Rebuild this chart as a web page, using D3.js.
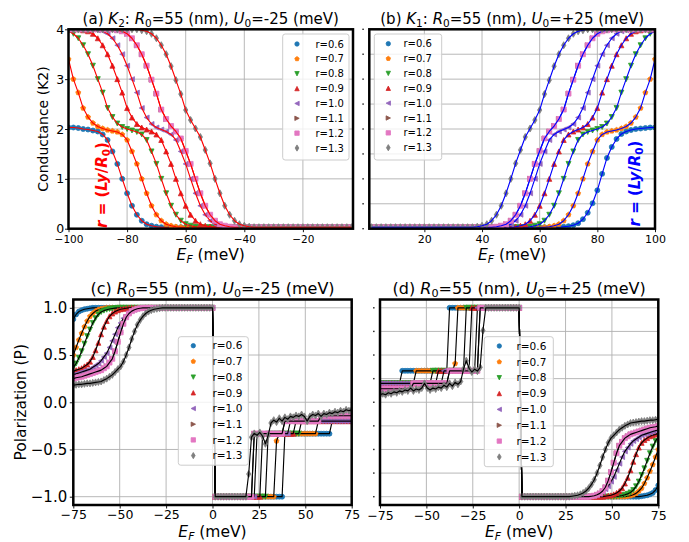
<!DOCTYPE html>
<html>
<head>
<meta charset="utf-8">
<script src="https://cdn.jsdelivr.net/npm/d3@7/dist/d3.min.js"></script>
<style>
html,body{margin:0;padding:0;background:#ffffff;}
svg{display:block;}
text{font-family:"DejaVu Sans",sans-serif;white-space:pre;}
</style>
</head>
<body>
<svg id="chart" width="689" height="542" xmlns="http://www.w3.org/2000/svg"></svg>
<script>
// ================= DATA =================
const seriesLabels = ["r=0.6","r=0.7","r=0.8","r=0.9","r=1.0","r=1.1","r=1.2","r=1.3"];
const seriesColors = ["#1f77b4","#ff7f0e","#2ca02c","#d62728","#9467bd","#8c564b","#e377c2","#7f7f7f"];
const seriesMarkers = ["o","p","v","^","<",">","s","d"];

// E_F sample grids (meV)
const efA = d3.range(59).map(i => -100 + i * 5 / 3);
const efB = d3.range(1, 61).map(j => j * 5 / 3);
const efCD = d3.range(101).map(k => -75 + 1.5 * k);

// tick values
const xTicksA = [-100,-80,-60,-40,-20];
const yTicksA = [0,1,2,3,4];
const xTicksB = [20,40,60,80,100];
const yTicksB = [0,0.5,1,1.5,2,2.5,3,3.5,4];
const xTicksCD = [-75,-50,-25,0,25,50,75];
const yTicksC = [-1,-0.5,0,0.5,1];
const yTicksD = [-1,-0.75,-0.5,-0.25,0,0.25,0.5,0.75,1];

// (a) conductance K2, U0=-25
const condA_r06 = [2.03,2.03,2.02,2.0,1.99,1.97,1.95,1.89,1.78,1.55,
 1.3,1.0,.71,.46,.28,.16,.09,.06,.04,
 .03,.03,.03,.03,.03,.03,.03,.03,.03,.03,
 .03,.03,.03,.03,.03,.03,.03,.03,.03,.03,
 .03,.03,.03,.03,.03,.03,.03,.03,.03,.03,
 .03,.03,.03,.03,.03,.03,.03,.03,.03,.03];
const condA_r07 = [3.4,3.0,2.73,2.42,2.24,2.12,2.05,2.01,1.98,1.96,
 1.94,1.89,1.78,1.55,1.3,1.0,.71,.46,.28,.16,
 .09,.06,.04,
 .03,.03,.03,.03,.03,.03,.03,.03,.03,.03,
 .03,.03,.03,.03,.03,.03,.03,.03,.03,.03,
 .03,.03,.03,.03,.03,.03,.03,.03,.03,.03,
 .03,.03,.03,.03,.03,.03];
const condA_r08 = [3.96,3.91,3.82,3.68,3.5,3.27,3.0,2.73,2.42,2.24,
 2.11,2.04,2.0,1.97,1.94,1.89,1.78,1.55,1.3,1.0,
 .71,.46,.28,.16,.09,.06,.04,
 .03,.03,.03,.03,.03,.03,.03,.03,.03,.03,
 .03,.03,.03,.03,.03,.03,.03,.03,.03,.03,
 .03,.03,.03,.03,.03,.03,.03,.03,.03,.03,
 .03,.03];
const condA_r09 = [4,4,4,3.98,3.96,3.91,3.82,3.68,3.5,3.27,
 3.0,2.73,2.42,2.23,2.1,2.03,1.99,1.95,1.89,1.78,
 1.55,1.3,1.0,.71,.46,.28,.16,.09,.06,.04,
 .03,.03,.03,.03,.03,.03,.03,.03,.03,.03,
 .03,.03,.03,.03,.03,.03,.03,.03,.03,.03,
 .03,.03,.03,.03,.03,.03,.03,.03,.03];
const condA_r10 = [4,4,4,4,4,4,3.98,3.96,3.91,3.82,
 3.68,3.5,3.27,3.0,2.73,2.42,2.23,2.1,2.03,1.99,
 1.95,1.89,1.78,1.55,1.3,1.0,.71,.46,.28,.16,
 .09,.06,.04,
 .03,.03,.03,.03,.03,.03,.03,.03,.03,.03,
 .03,.03,.03,.03,.03,.03,.03,.03,.03,.03,
 .03,.03,.03,.03,.03,.03];
const condA_r12 = [4,4,4,4,4,4,4,4,4,4,
 3.98,3.96,3.91,3.82,3.68,3.5,3.27,2.99,2.71,2.39,
 2.2,2.06,1.95,1.81,1.56,1.3,1.0,.71,.46,.28,
 .16,.09,.06,.04,
 .03,.03,.03,.03,.03,.03,.03,.03,.03,.03,
 .03,.03,.03,.03,.03,.03,.03,.03,.03,.03,
 .03,.03,.03,.03,.03];
const condA_r13 = [4,4,4,4,4,4,4,4,4,4,
 4,4,4,4,4,3.98,3.96,3.91,3.82,3.68,
 3.5,3.26,2.98,2.7,2.38,2.18,2.01,1.84,1.58,1.31,
 1.0,.71,.46,.28,.16,.09,.06,.04,
 .03,.03,.03,.03,.03,.03,.03,.03,.03,.03,
 .03,.03,.03,.03,.03,.03,.03,.03,.03,.03,
 .03];
const condA_r11 = condA_r12; // r=1.1 markers lie exactly under the r=1.2 squares

// (b) conductance K1, U0=+25
const condB_r06 = [.03,.03,.03,.03,.03,.03,.03,.03,.03,.03,
 .03,.03,.03,.03,.03,.03,.03,.03,.03,.03,
 .03,.03,.03,.03,.03,.03,.03,.03,.03,.03,
 .03,.03,.03,.03,.03,.03,.03,.03,.03,.03,
 .04,.05,.07,.11,.19,.32,.51,.77,1.1,1.42,
 1.64,1.8,1.9,1.95,1.98,2.0,2.01,2.02,2.03,2.03];
const condB_r07 = [.03,.03,.03,.03,.03,.03,.03,.03,.03,.03,
 .03,.03,.03,.03,.03,.03,.03,.03,.03,.03,
 .03,.03,.03,.03,.03,.03,.03,.03,.03,.03,
 .03,.03,.03,.03,.03,.03,.03,.04,.06,.09,
 .16,.28,.46,.71,1.0,1.3,1.55,1.78,1.89,1.94,
 1.96,1.98,2.01,2.05,2.12,2.24,2.42,2.73,3.0,3.4];
const condB_r08 = [.03,.03,.03,.03,.03,.03,.03,.03,.03,.03,
 .03,.03,.03,.03,.03,.03,.03,.03,.03,.03,
 .03,.03,.03,.03,.03,.03,.03,.03,.03,.03,
 .03,.03,.03,.04,.06,.09,.16,.28,.46,.71,
 1.0,1.3,1.55,1.78,1.89,1.94,1.97,2.0,2.04,2.11,
 2.24,2.42,2.73,3.0,3.27,3.5,3.68,3.82,3.91,3.96];
const condB_r09 = [.03,.03,.03,.03,.03,.03,.03,.03,.03,.03,
 .03,.03,.03,.03,.03,.03,.03,.03,.03,.03,
 .03,.03,.03,.03,.03,.03,.03,.03,.03,.03,
 .04,.06,.09,.16,.28,.46,.71,1.0,1.3,1.55,
 1.78,1.89,1.95,1.99,2.03,2.1,2.23,2.42,2.73,3.0,
 3.27,3.5,3.68,3.82,3.91,3.96,3.98,4,4,4];
const condB_r10 = [.03,.03,.03,.03,.03,.03,.03,.03,.03,.03,
 .03,.03,.03,.03,.03,.03,.03,.03,.03,.03,
 .03,.03,.03,.03,.03,.03,.03,.04,.06,.09,
 .16,.28,.46,.71,1.0,1.3,1.55,1.78,1.89,1.95,
 1.99,2.03,2.1,2.23,2.42,2.73,3.0,3.27,3.5,3.68,
 3.82,3.91,3.96,3.98,4,4,4,4,4,4];
const condB_r12 = [.03,.03,.03,.03,.03,.03,.03,.03,.03,.03,
 .03,.03,.03,.03,.03,.03,.03,.03,.03,.03,
 .03,.03,.03,.03,.03,.03,.04,.06,.09,.16,
 .28,.46,.71,1.0,1.3,1.56,1.81,1.95,2.06,2.2,
 2.39,2.71,2.99,3.27,3.5,3.68,3.82,3.91,3.96,3.98,
 4,4,4,4,4,4,4,4,4,4];
const condB_r13 = [.03,.03,.03,.03,.03,.03,.03,.03,.03,.03,
 .03,.03,.03,.03,.03,.03,.03,.03,.03,.03,
 .03,.03,.04,.06,.09,.16,.28,.46,.71,1.0,
 1.31,1.58,1.84,2.01,2.18,2.38,2.7,2.98,3.26,3.5,
 3.68,3.82,3.91,3.96,3.98,4,4,4,4,4,
 4,4,4,4,4,4,4,4,4,4];
const condB_r11 = condB_r12; // hidden under r=1.2

// (c) polarization, U0=-25
const polC_r06 = [.88,.93,.96,.975,.985,.99,.995,1,1,1,
 1,1,1,1,1,1,1,1,1,1, 1,1,1,1,1,1,1,1,1,1,
 1,1,1,1,1,1,1,1,1,1, 1,1,1,1,1,1,1,1,1,1,
 1,-1,-1,-1,-1,-1,-1,-1,-1,-1,
 -1,-1,-1,-1,-1,-1,-1,-1,-1,-1,
 -1,-1,-1,-1,-1,-1,-.333,-.333,-.333,-.333,
 -.333,-.333,-.333,-.333,-.333,-.333,-.333,-.333,-.333,-.333,
 -.333,-.333,-.333,-.2,-.2,-.2,-.2,-.2,-.2,-.2,
 -.2];
const polC_r07 = [.5,.58,.66,.73,.8,.86,.91,.94,.965,.98,
 .99,.995,1,1,1,1,1,1,1,1,
 1,1,1,1,1,1,1,1,1,1, 1,1,1,1,1,1,1,1,1,1, 1,1,1,1,1,1,1,1,1,1,
 1,-1,-1,-1,-1,-1,-1,-1,-1,-1,
 -1,-1,-1,-1,-1,-1,-1,-1,-1,-1,
 -1,-1,-1,-.41,-.333,-.333,-.333,-.333,-.333,-.333,
 -.333,-.333,-.333,-.333,-.333,-.333,-.333,-.333,-.2,-.2,
 -.2,-.2,-.2,-.2,-.2,-.2,-.2,-.2,-.2,-.2,
 -.2];
const polC_r08 = [.37,.41,.47,.54,.62,.7,.77,.84,.89,.93,
 .955,.97,.98,.988,.993,.997,1,1,1,1,
 1,1,1,1,1,1,1,1,1,1, 1,1,1,1,1,1,1,1,1,1, 1,1,1,1,1,1,1,1,1,1,
 1,-1,-1,-1,-1,-1,-1,-1,-1,-1,
 -1,-1,-1,-1,-1,-1,-1,-1,-1,-1,
 -.333,-.333,-.333,-.333,-.333,-.333,-.333,-.333,-.333,-.333,
 -.333,-.333,-.2,-.2,-.2,-.2,-.2,-.2,-.2,-.2,
 -.2,-.2,-.2,-.2,-.2,-.2,-.2,-.2,-.2,-.2,
 -.2];
const polC_r09 = [.33,.34,.35,.36,.38,.4,.43,.48,.55,.63,
 .72,.8,.86,.91,.94,.96,.975,.985,.99,.995,
 1,1,1,1,1,1,1,1,1,1, 1,1,1,1,1,1,1,1,1,1, 1,1,1,1,1,1,1,1,1,1,
 1,-1,-1,-1,-1,-1,-1,-1,-1,-1,
 -1,-1,-1,-1,-1,-1,-1,-1,-.333,-.333,
 -.333,-.333,-.333,-.333,-.333,-.333,-.333,-.333,-.333,-.333,
 -.2,-.2,-.2,-.2,-.2,-.2,-.2,-.2,-.2,-.2,
 -.2,-.2,-.2,-.2,-.2,-.2,-.2,-.2,-.2,-.2,
 -.2];
const polC_r10 = [.29,.3,.31,.32,.33,.34,.35,.37,.39,.41,
 .44,.48,.52,.58,.65,.72,.79,.84,.89,.92,
 .95,.97,.98,.99,.995,1,1,1,1,1,
 1,1,1,1,1,1,1,1,1,1, 1,1,1,1,1,1,1,1,1,1,
 1,-1,-1,-1,-1,-1,-1,-1,-1,-1,
 -1,-1,-1,-1,-1,-1,-.333,-.333,-.333,-.333,
 -.333,-.333,-.333,-.333,-.333,-.333,-.333,-.333,-.2,-.2,
 -.2,-.2,-.2,-.2,-.2,-.2,-.2,-.2,-.2,-.2,
 -.2,-.2,-.2,-.2,-.2,-.2,-.2,-.2,-.2,-.2,
 -.2];
const polC_r12 = [.25,.26,.265,.27,.28,.29,.3,.31,.32,.33,
 .34,.36,.38,.42,.46,.54,.64,.74,.83,.9,
 .94,.965,.98,.99,.995,1,1,1,1,1,
 1,1,1,1,1,1,1,1,1,1, 1,1,1,1,1,1,1,1,1,1,
 1,-1,-1,-1,-1,-1,-1,-1,-1,-1,
 -1,-1,-1,-1,-1,-.333,-.333,-.333,-.333,-.333,
 -.333,-.333,-.333,-.333,-.333,-.333,-.2,-.2,-.2,-.2,
 -.2,-.2,-.2,-.2,-.2,-.2,-.2,-.2,-.2,-.143,
 -.143,-.143,-.143,-.143,-.143,-.143,-.143,-.143,-.143,-.143,
 -.143];
const polC_r13 = [.18,.185,.19,.19,.195,.2,.2,.205,.21,.215,
 .22,.235,.25,.27,.29,.32,.35,.38,.43,.5,
 .58,.67,.75,.82,.87,.91,.94,.96,.975,.985,
 .99,.995,1,1,1,1,1,1,1,1,
 1,1,1,1,1,1,1,1,1,1,
 1,-1,-1,-1,-1,-1,-1,-1,-1,-1,
 -1,-1,-1,-.76,-.37,-.33,-.35,-.32,-.36,-.44,
 -.35,-.22,-.19,-.21,-.17,-.2,-.16,-.18,-.15,-.16,
 -.14,-.15,-.13,-.15,-.2,-.15,-.13,-.14,-.12,-.15,
 -.12,-.13,-.11,-.12,-.1,-.11,-.09,-.1,-.08,-.09,
 -.08];
const polC_r11 = polC_r12; // hidden under r=1.2

// (d) polarization, U0=+25
const polD_r06 = [.2,.2,.2,.2,.2,.2,.2,.2,.333,.333,
 .333,.333,.333,.333,.333,.333,.333,.333,.333,.333,
 .333,.333,.333,.333,.333,1,1,1,1,1,
 1,1,1,1,1,1,1,1,1,1, 1,1,1,1,1,1,1,1,1,1,
 1,-1,-1,-1,-1,-1,-1,-1,-1,-1,
 -1,-1,-1,-1,-1,-1,-1,-1,-1,-1,
 -1,-1,-1,-1,-1,-1,-1,-1,-1,-1,
 -1,-1,-1,-1,-1,-1,-1,-1,-1,-1,
 -1,-1,-1,-1,-.995,-.99,-.985,-.975,-.96,-.93,
 -.88];
const polD_r07 = [.2,.2,.2,.2,.2,.2,.2,.2,.2,.2,
 .2,.2,.2,.333,.333,.333,.333,.333,.333,.333,
 .333,.333,.333,.333,.333,.333,.333,.41,1,1,
 1,1,1,1,1,1,1,1,1,1, 1,1,1,1,1,1,1,1,1,1,
 1,-1,-1,-1,-1,-1,-1,-1,-1,-1,
 -1,-1,-1,-1,-1,-1,-1,-1,-1,-1,
 -1,-1,-1,-1,-1,-1,-1,-1,-1,-1,
 -1,-1,-1,-1,-1,-1,-1,-1,-1,-.995,
 -.99,-.98,-.965,-.94,-.91,-.86,-.8,-.73,-.66,-.58,
 -.5];
const polD_r08 = [.2,.2,.2,.2,.2,.2,.2,.2,.2,.2,
 .2,.2,.2,.2,.2,.2,.2,.2,.2,.333,
 .333,.333,.333,.333,.333,.333,.333,.333,.333,.333,
 .333,1,1,1,1,1,1,1,1,1,
 1,1,1,1,1,1,1,1,1,1,
 1,-1,-1,-1,-1,-1,-1,-1,-1,-1,
 -1,-1,-1,-1,-1,-1,-1,-1,-1,-1,
 -1,-1,-1,-1,-1,-1,-1,-1,-1,-1,
 -1,-1,-1,-1,-1,-.997,-.993,-.988,-.98,-.97,
 -.955,-.93,-.89,-.84,-.77,-.7,-.62,-.54,-.47,-.41,
 -.37];
const polD_r09 = [.2,.2,.2,.2,.2,.2,.2,.2,.2,.2,
 .2,.2,.2,.2,.2,.2,.2,.2,.2,.2,
 .2,.333,.333,.333,.333,.333,.333,.333,.333,.333,
 .333,.333,.333,1,1,1,1,1,1,1,
 1,1,1,1,1,1,1,1,1,1,
 1,-1,-1,-1,-1,-1,-1,-1,-1,-1,
 -1,-1,-1,-1,-1,-1,-1,-1,-1,-1,
 -1,-1,-1,-1,-1,-1,-1,-1,-1,-1,
 -1,-.995,-.99,-.985,-.975,-.96,-.94,-.91,-.86,-.8,
 -.72,-.63,-.55,-.48,-.43,-.4,-.38,-.36,-.35,-.34,
 -.33];
const polD_r10 = [.2,.2,.2,.2,.2,.2,.2,.2,.2,.2,
 .2,.2,.2,.2,.2,.2,.2,.2,.2,.2,
 .2,.2,.2,.333,.333,.333,.333,.333,.333,.333,
 .333,.333,.333,.333,.333,1,1,1,1,1,
 1,1,1,1,1,1,1,1,1,1,
 1,-1,-1,-1,-1,-1,-1,-1,-1,-1,
 -1,-1,-1,-1,-1,-1,-1,-1,-1,-1,
 -1,-1,-1,-1,-1,-1,-.995,-.99,-.98,-.97,
 -.95,-.92,-.89,-.84,-.79,-.72,-.65,-.58,-.52,-.48,
 -.44,-.41,-.39,-.37,-.35,-.34,-.33,-.32,-.31,-.3,
 -.29];
const polD_r12 = [.143,.143,.143,.143,.143,.143,.143,.143,.143,.143,
 .143,.143,.2,.2,.2,.2,.2,.2,.2,.2,
 .2,.2,.2,.2,.2,.333,.333,.333,.333,.333,
 .333,.333,.333,.333,.333,.333,1,1,1,1,
 1,1,1,1,1,1,1,1,1,1,
 1,-1,-1,-1,-1,-1,-1,-1,-1,-1,
 -1,-1,-1,-1,-1,-1,-1,-1,-1,-1,
 -1,-1,-1,-1,-1,-1,-.995,-.99,-.98,-.965,
 -.94,-.9,-.83,-.74,-.64,-.54,-.46,-.42,-.38,-.36,
 -.34,-.33,-.32,-.31,-.3,-.29,-.28,-.27,-.265,-.26,
 -.25];
const polD_r13 = [.08,.09,.08,.1,.09,.11,.1,.12,.11,.13,
 .12,.15,.12,.14,.13,.15,.2,.15,.13,.15,
 .14,.16,.15,.18,.16,.2,.17,.21,.19,.22,
 .35,.44,.36,.32,.35,.33,.37,.76,1,1,
 1,1,1,1,1,1,1,1,1,1,
 1,-1,-1,-1,-1,-1,-1,-1,-1,-1,
 -1,-1,-1,-1,-1,-1,-1,-1,-1,-.995,
 -.99,-.985,-.975,-.96,-.94,-.91,-.87,-.82,-.75,-.67,
 -.58,-.5,-.43,-.38,-.35,-.32,-.29,-.27,-.25,-.235,
 -.22,-.215,-.21,-.205,-.2,-.2,-.195,-.19,-.19,-.185,
 -.18];
const polD_r11 = polD_r12; // hidden under r=1.2

// ================= RENDER =================
const svg = d3.select("#chart");
const defs = svg.append("defs");
svg.append("rect").attr("width",689).attr("height",542).attr("fill","#ffffff");

const MS = 5.0;   // marker size in plots (px)
const MSL = 4.4;  // marker size in legends (px)
function markerPath(m, s) {
  const h = s / 2;
  switch (m) {
    case "o": return `M${h},0A${h},${h} 0 1,1 ${-h},0A${h},${h} 0 1,1 ${h},0Z`;
    case "p": {
      const pts = d3.range(5).map(i => { const a = -Math.PI/2 + i*2*Math.PI/5; return [(h*1.05*Math.cos(a)).toFixed(2), (h*1.05*Math.sin(a)).toFixed(2)]; });
      return "M" + pts.map(q => q.join(",")).join("L") + "Z";
    }
    case "v": return `M0,${h}L${-h},${-h}L${h},${-h}Z`;
    case "^": return `M0,${-h}L${-h},${h}L${h},${h}Z`;
    case "<": return `M${-h},0L${h},${-h}L${h},${h}Z`;
    case ">": return `M${h},0L${-h},${-h}L${-h},${h}Z`;
    case "s": return `M${-h},${-h}H${h}V${h}H${-h}Z`;
    case "d": { const a = 0.707*s, b = 0.424*s; return `M0,${-a}L${b},0L0,${a}L${-b},0Z`; }
  }
}

function richText(sel, parts, fs) {
  let sub = false;
  parts.forEach(([t, st]) => {
    st = st || "";
    const ts = sel.append("tspan").text(t);
    const isSub = st.includes("sub");
    if (st.includes("i")) ts.attr("font-style", "italic");
    if (isSub) ts.attr("font-size", (fs*0.7).toFixed(2));
    if (isSub && !sub) ts.attr("dy", (fs*0.22).toFixed(2));
    if (!isSub && sub) ts.attr("dy", (-fs*0.22).toFixed(2));
    sub = isSub;
  });
}

const fmtInt = d3.format("d");
const fmt1 = d3.format(".1f");

const panels = [
  { key:"a", x0:68.5, x1:353, y0:29.3, y1:228.7, xdom:[-100,-2.9], ydom:[0,4],
    ef:efA, series:[condA_r06,condA_r07,condA_r08,condA_r09,condA_r10,condA_r11,condA_r12,condA_r13],
    lineColor:"#ff0000", xticks:xTicksA, yticks:yTicksA, xgrid:xTicksA, ygrid:yTicksA, yLabels:true,
    xFmt:fmtInt, yFmt:fmtInt, xFs:10.5, yFs:12.5, xPad:3.0, yPad:0.8,
    title:[["(a) "],["K","i"],["2","sub"],[": "],["R","i"],["0","sub"],["=55 (nm), "],["U","i"],["0","sub"],["=-25 (meV)"]],
    titleFs:15, titleY:23.5, xlabY:259.5,
    ylabel:"Conductance (K2)", ylabX:47.5, ylabFs:14,
    legend:{x:282.7,y:34,w:66.3,h:126,r0:44,dy:14.86,mx:297,tx:315.5,fs:10},
    note:{x:101,y:185,color:"#ff0000"} },
  { key:"b", x0:369.3, x1:655, y0:29.3, y1:228.7, xdom:[0.9,100], ydom:[0,4],
    ef:efB, series:[condB_r06,condB_r07,condB_r08,condB_r09,condB_r10,condB_r11,condB_r12,condB_r13],
    lineColor:"#0000ff", xticks:xTicksB, yticks:yTicksB, xgrid:xTicksB, ygrid:yTicksB, yLabels:false,
    xFmt:fmtInt, xFs:11, xPad:2.6,
    title:[["(b) "],["K","i"],["1","sub"],[": "],["R","i"],["0","sub"],["=55 (nm), "],["U","i"],["0","sub"],["=+25 (meV)"]],
    titleFs:15, titleY:23.5, xlabY:259.5,
    legend:{x:374.3,y:34,w:67.4,h:126,r0:43.7,dy:14.86,mx:388.3,tx:403.5,fs:10},
    note:{x:634,y:183.5,color:"#0000ff"} },
  { key:"c", x0:73.3, x1:351.7, y0:299.5, y1:505, xdom:[-75,75], ydom:[-1.088,1.088],
    ef:efCD, series:[polC_r06,polC_r07,polC_r08,polC_r09,polC_r10,polC_r11,polC_r12,polC_r13],
    lineColor:"#000000", xticks:xTicksCD, yticks:yTicksC, xgrid:xTicksCD, ygrid:yTicksC, yLabels:true,
    xFmt:fmtInt, yFmt:fmt1, xFs:12.5, yFs:15, xPad:2.0, yPad:2.6,
    title:[["(c) "],["R","i"],["0","sub"],["=55 (nm), "],["U","i"],["0","sub"],["=-25 (meV)"]],
    titleFs:16, titleY:293.5, xlabY:536.5,
    ylabel:"Polarization (P)", ylabX:25.5, ylabFs:15.5,
    legend:{x:178.3,y:336.7,w:70,h:128.5,r0:345.7,dy:15.7,mx:193.3,tx:212.5,fs:10.5} },
  { key:"d", x0:380, x1:658.3, y0:299.5, y1:505, xdom:[-75,75], ydom:[-1.088,1.088],
    ef:efCD, series:[polD_r06,polD_r07,polD_r08,polD_r09,polD_r10,polD_r11,polD_r12,polD_r13],
    lineColor:"#000000", xticks:xTicksCD, yticks:yTicksD, xgrid:xTicksCD, ygrid:yTicksD, yLabels:false,
    xFmt:fmtInt, xFs:12.5, xPad:2.4,
    title:[["(d) "],["R","i"],["0","sub"],["=55 (nm), "],["U","i"],["0","sub"],["=+25 (meV)"]],
    titleFs:16, titleY:293.5, xlabY:536.5,
    legend:{x:484.3,y:336.7,w:69,h:130,r0:346,dy:15.85,mx:499.3,tx:516.5,fs:10.5} }
];

// length check
panels.forEach(p => p.series.forEach((s, i) => {
  if (s.length !== p.ef.length) throw new Error(`panel ${p.key} series ${i} has ${s.length} values, expected ${p.ef.length}`);
}));

panels.forEach(p => {
  const g = svg.append("g");
  const x = d3.scaleLinear().domain(p.xdom).range([p.x0, p.x1]);
  const y = d3.scaleLinear().domain(p.ydom).range([p.y1, p.y0]);

  // grid
  g.append("g").selectAll("line").data(p.xgrid).join("line")
    .attr("x1", d => x(d)).attr("x2", d => x(d)).attr("y1", p.y0).attr("y2", p.y1)
    .attr("stroke", "#b0b0b0").attr("stroke-width", 0.9);
  g.append("g").selectAll("line").data(p.ygrid).join("line")
    .attr("y1", d => y(d)).attr("y2", d => y(d)).attr("x1", p.x0).attr("x2", p.x1)
    .attr("stroke", "#b0b0b0").attr("stroke-width", 0.9);

  // clip
  const cid = "clip-" + p.key;
  defs.append("clipPath").attr("id", cid).append("rect")
    .attr("x", p.x0).attr("y", p.y0).attr("width", p.x1 - p.x0).attr("height", p.y1 - p.y0);
  const plot = g.append("g").attr("clip-path", `url(#${cid})`);
  const line = d3.line().x(d => x(d[0])).y(d => y(d[1]));

  p.series.forEach((vals, si) => {
    const pts = p.ef.map((e, k) => [e, vals[k]]);
    const mp = markerPath(seriesMarkers[si], MS);
    plot.append("g").selectAll("path").data(pts).join("path")
      .attr("transform", d => `translate(${x(d[0]).toFixed(2)},${y(d[1]).toFixed(2)})`)
      .attr("d", mp).attr("fill", seriesColors[si])
      .attr("stroke", seriesColors[si]).attr("stroke-width", 0.8);
    plot.append("path").datum(pts).attr("d", line)
      .attr("fill", "none").attr("stroke", p.lineColor).attr("stroke-width", 1.15)
      .attr("stroke-linejoin", "round");
  });

  // x axis
  const xa = g.append("g").attr("transform", `translate(0,${p.y1})`)
    .call(d3.axisBottom(x).tickValues(p.xticks).tickFormat(p.xFmt).tickSize(3.5).tickPadding(p.xPad));
  xa.select(".domain").remove();
  xa.selectAll("line").attr("stroke", "#000").attr("stroke-width", 0.9);
  xa.selectAll("text").attr("font-size", p.xFs).attr("fill", "#000").attr("font-family", "DejaVu Sans");

  // y axis
  if (p.yLabels) {
    const ya = g.append("g").attr("transform", `translate(${p.x0},0)`)
      .call(d3.axisLeft(y).tickValues(p.yticks).tickFormat(p.yFmt).tickSize(3.5).tickPadding(p.yPad));
    ya.select(".domain").remove();
    ya.selectAll("line").attr("stroke", "#000").attr("stroke-width", 0.9);
    ya.selectAll("text").attr("font-size", p.yFs).attr("fill", "#000").attr("font-family", "DejaVu Sans");
  } else {
    g.append("g").selectAll("rect").data(p.yticks).join("rect")
      .attr("x", p.x0 - 7).attr("y", d => y(d) - 0.7).attr("width", 1.6).attr("height", 1.4)
      .attr("fill", "#333");
  }

  // spines
  g.append("rect").attr("x", p.x0).attr("y", p.y0).attr("width", p.x1 - p.x0).attr("height", p.y1 - p.y0)
    .attr("fill", "none").attr("stroke", "#000").attr("stroke-width", 2.5);

  // title
  const cx = (p.x0 + p.x1) / 2;
  const t = g.append("text").attr("x", cx).attr("y", p.titleY).attr("text-anchor", "middle")
    .attr("font-size", p.titleFs).attr("fill", "#000");
  richText(t, p.title, p.titleFs);

  // x label
  const xl = g.append("text").attr("x", cx).attr("y", p.xlabY).attr("text-anchor", "middle")
    .attr("font-size", 15.5).attr("fill", "#000");
  richText(xl, [["E","i"],["F","isub"],[" (meV)"]], 15.5);

  // y label
  if (p.ylabel) {
    g.append("text").attr("transform", `translate(${p.ylabX},${(p.y0 + p.y1) / 2}) rotate(-90)`)
      .attr("text-anchor", "middle").attr("font-size", p.ylabFs).attr("fill", "#000").text(p.ylabel);
  }

  // annotation
  if (p.note) {
    const nt = g.append("text").attr("transform", `translate(${p.note.x + 5.5},${p.note.y}) rotate(-90)`)
      .attr("text-anchor", "middle").attr("font-size", 15).attr("font-weight", "bold").attr("fill", p.note.color);
    richText(nt, [["r","i"],[" = ("],["Ly","i"],["/"],["R","i"],["0","sub"],[")"]], 15);
  }

  // legend
  const L = p.legend;
  const lg = g.append("g");
  lg.append("rect").attr("x", L.x).attr("y", L.y).attr("width", L.w).attr("height", L.h)
    .attr("rx", 2.5).attr("fill", "#ffffff").attr("fill-opacity", 0.8)
    .attr("stroke", "#cccccc").attr("stroke-width", 1);
  seriesLabels.forEach((lab, si) => {
    const yy = L.r0 + si * L.dy;
    lg.append("path").attr("transform", `translate(${L.mx},${yy})`)
      .attr("d", markerPath(seriesMarkers[si], MSL)).attr("fill", seriesColors[si])
      .attr("stroke", seriesColors[si]).attr("stroke-width", 0.8);
    lg.append("text").attr("x", L.tx).attr("y", yy + L.fs * 0.36).attr("font-size", L.fs)
      .attr("fill", "#000").text(lab);
  });
});
</script>
</body>
</html>
